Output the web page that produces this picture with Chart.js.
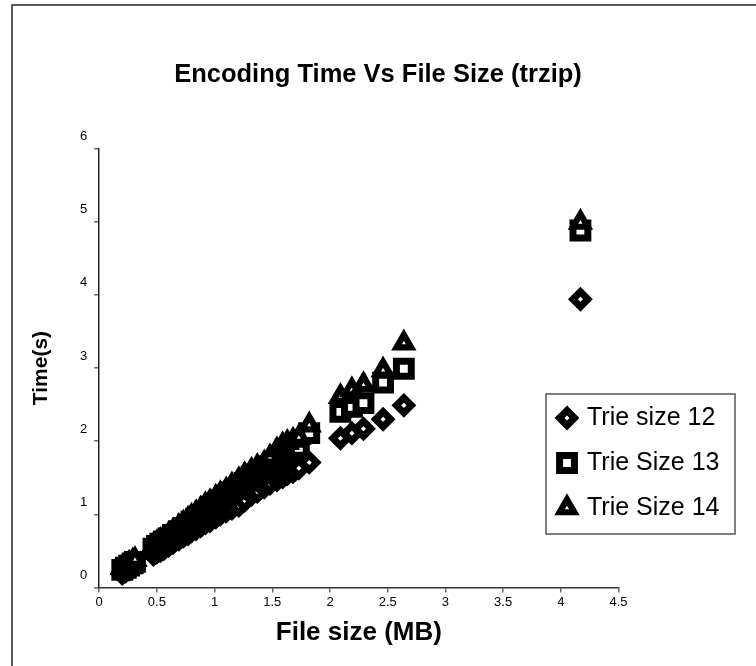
<!DOCTYPE html>
<html>
<head>
<meta charset="utf-8">
<title>Encoding Time Vs File Size (trzip)</title>
<script src="https://cdn.jsdelivr.net/npm/chart.js@4.4.1/dist/chart.umd.min.js"></script>
<style>
  html, body { margin: 0; padding: 0; background: #fff; }
  #wrap { width: 756px; height: 666px; }
</style>
</head>
<body>
<div id="wrap"><canvas id="encoding-chart" width="756" height="666"></canvas></div>
<script>
// file size (MB) of each test file, shared by the three runs
const fileSizes = [0.20, 0.23, 0.26, 0.29, 0.31, 0.47, 0.50, 0.53, 0.56, 0.60,
  0.64, 0.69, 0.73, 0.77, 0.80, 0.84, 0.88, 0.92, 0.96, 1.01,
  1.05, 1.10, 1.15, 1.21, 1.26, 1.32, 1.37, 1.43, 1.48, 1.54,
  1.59, 1.63, 1.68, 1.73, 1.82, 2.09, 2.19, 2.29, 2.46, 2.64, 4.17];

// encoding time (s)
const trie12Times = [0.19, 0.22, 0.25, 0.28, 0.30, 0.45, 0.48, 0.50, 0.53, 0.57,
  0.61, 0.66, 0.70, 0.73, 0.77, 0.80, 0.84, 0.88, 0.91, 0.96,
  1.00, 1.04, 1.08, 1.12, 1.19, 1.27, 1.31, 1.37, 1.42, 1.47,
  1.51, 1.55, 1.58, 1.63, 1.71, 2.04, 2.11, 2.17, 2.30, 2.49, 3.94];
const trie13Times = [0.24, 0.27, 0.30, 0.33, 0.35, 0.53, 0.57, 0.60, 0.63, 0.67,
  0.72, 0.77, 0.81, 0.86, 0.90, 0.94, 0.99, 1.04, 1.09, 1.14,
  1.19, 1.25, 1.30, 1.35, 1.43, 1.51, 1.55, 1.59, 1.66, 1.73,
  1.79, 1.82, 1.86, 1.91, 2.11, 2.40, 2.47, 2.52, 2.80, 2.99, 4.88];
const trie14Times = [0.27, 0.30, 0.33, 0.36, 0.38, 0.57, 0.61, 0.64, 0.67, 0.72,
  0.77, 0.83, 0.88, 0.93, 0.97, 1.02, 1.07, 1.13, 1.17, 1.23,
  1.28, 1.33, 1.40, 1.47, 1.54, 1.60, 1.65, 1.70, 1.78, 1.88,
  1.95, 1.98, 2.01, 2.05, 2.22, 2.61, 2.70, 2.77, 2.97, 3.34, 4.99];

const seriesLabels = ['Trie size 12', 'Trie Size 13', 'Trie Size 14'];
const xTicks = [0, 0.5, 1, 1.5, 2, 2.5, 3, 3.5, 4, 4.5];
const yTicks = [0, 1, 2, 3, 4, 5, 6];

const FONT = "'Liberation Sans', Arial, Helvetica, sans-serif";

const toPoints = (times) => fileSizes.map((x, i) => ({ x, y: times[i] }));

// white page with the thin frame line at top and left
const framePlugin = {
  id: 'frame',
  beforeDraw(chart) {
    const { ctx, width, height } = chart;
    ctx.save();
    ctx.fillStyle = '#fff';
    ctx.fillRect(0, 0, width, height);
    ctx.strokeStyle = '#222';
    ctx.lineWidth = 1.5;
    ctx.beginPath();
    ctx.moveTo(width, 5);
    ctx.lineTo(12, 5);
    ctx.lineTo(12, height);
    ctx.stroke();
    ctx.restore();
  }
};

// legend drawn as a bordered box inside the plot
const boxedLegend = {
  id: 'boxedLegend',
  afterDraw(chart) {
    const ctx = chart.ctx;
    ctx.save();
    ctx.fillStyle = '#fff';
    ctx.fillRect(546, 394, 189, 140);
    ctx.lineWidth = 1.5;
    ctx.strokeStyle = '#555';
    ctx.strokeRect(546, 394, 189, 140);
    chart.data.datasets.forEach((ds, i) => {
      const y = 418 + i * 45;
      ctx.lineWidth = ds.pointBorderWidth;
      ctx.strokeStyle = ds.pointBorderColor;
      ctx.fillStyle = ds.pointBackgroundColor;
      ctx.lineJoin = 'miter';
      Chart.helpers.drawPoint(ctx, {
        pointStyle: ds.pointStyle,
        radius: ds.pointRadius,
        borderWidth: ds.pointBorderWidth,
        rotation: 0
      }, 567, y);
      ctx.fillStyle = '#000';
      ctx.font = '25px ' + FONT;
      ctx.textAlign = 'left';
      ctx.textBaseline = 'middle';
      ctx.fillText(ds.label, 587, y);
    });
    ctx.restore();
  }
};

const ctx = document.getElementById('encoding-chart');

new Chart(ctx, {
  type: 'scatter',
  data: {
    datasets: [
      {
        label: seriesLabels[0],
        data: toPoints(trie12Times),
        pointStyle: 'rectRot',
        pointRadius: 7.5,
        pointBorderWidth: 7,
        pointBorderColor: '#000',
        pointBackgroundColor: '#fff',
        order: 3
      },
      {
        label: seriesLabels[1],
        data: toPoints(trie13Times),
        pointStyle: 'rect',
        pointRadius: 10.5,
        pointBorderWidth: 7,
        pointBorderColor: '#000',
        pointBackgroundColor: '#fff',
        order: 2
      },
      {
        label: seriesLabels[2],
        data: toPoints(trie14Times),
        pointStyle: 'triangle',
        pointRadius: 8.5,
        pointBorderWidth: 6.2,
        pointBorderColor: '#000',
        pointBackgroundColor: '#fff',
        order: 1
      }
    ]
  },
  options: {
    responsive: false,
    animation: false,
    events: [],
    layout: { padding: 0 },
    scales: {
      x: {
        type: 'linear',
        min: 0,
        max: 4.5,
        afterBuildTicks: s => { s.ticks = xTicks.map(v => ({ value: v })); },
        afterFit: s => { s.height = 78.5; },
        ticks: {
          color: '#000',
          padding: 2,
          maxRotation: 0,
          callback: v => String(v),
          font: { family: FONT, size: 13 }
        },
        grid: { drawOnChartArea: false, tickLength: 5, color: '#666', lineWidth: 1.5 },
        border: { display: true, color: '#333', width: 1.5 },
        title: {
          display: true,
          text: 'File size (MB)',
          color: '#000',
          padding: { top: 0, bottom: 18 },
          font: { family: FONT, size: 26, weight: 'bold' }
        }
      },
      y: {
        type: 'linear',
        min: 0,
        max: 6,
        afterBuildTicks: s => { s.ticks = yTicks.map(v => ({ value: v })); },
        afterFit: s => { s.width = 99.2; },
        ticks: {
          color: '#000',
          padding: 7,
          labelOffset: -12,
          callback: v => String(v),
          font: { family: FONT, size: 13 }
        },
        grid: { drawOnChartArea: false, tickLength: 5, color: '#666', lineWidth: 1.5 },
        border: { display: true, color: '#222', width: 1.5 },
        title: {
          display: true,
          text: 'Time(s)',
          color: '#000',
          padding: { top: 29, bottom: 0 },
          font: { family: FONT, size: 21, weight: 'bold' }
        }
      },
      spacer: {
        type: 'linear',
        position: 'right',
        min: 0,
        max: 1,
        afterFit: s => { s.width = 137.5; },
        ticks: { display: false },
        grid: { display: false },
        border: { display: false }
      }
    },
    plugins: {
      legend: { display: false },
      tooltip: { enabled: false },
      title: {
        display: true,
        text: 'Encoding Time Vs File Size (trzip)',
        color: '#000',
        padding: { top: 60, bottom: 58 },
        font: { family: FONT, size: 25.5, weight: 'bold', lineHeight: 1.2 }
      }
    }
  },
  plugins: [framePlugin, boxedLegend]
});
</script>
</body>
</html>
